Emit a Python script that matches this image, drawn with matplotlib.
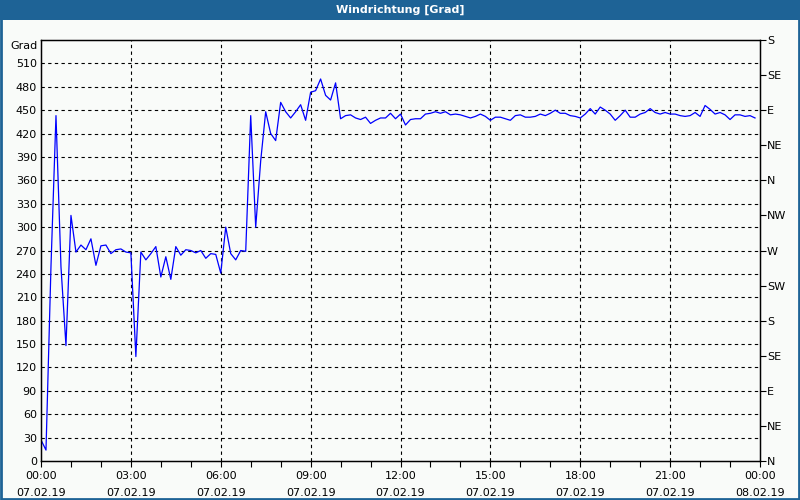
import numpy as np
import matplotlib
matplotlib.use("Agg")
import matplotlib.pyplot as plt
from matplotlib.patches import Rectangle

# Windrichtung, 10-Minuten-Werte vom 07.02.19 00:00 bis 23:50
grad = [27, 14, 250, 443, 249, 148, 315, 268, 277, 271,
        285, 251, 276, 277, 266, 271, 272, 268, 267, 134,
        268, 258, 266, 275, 236, 262, 233, 275, 264, 271,
        270, 267, 270, 260, 266, 265, 241, 300, 266, 258,
        270, 269, 443, 300, 385, 448, 420, 411, 460, 448,
        440, 448, 457, 437, 473, 475, 490, 469, 463, 485,
        439, 443, 444, 440, 438, 441, 433, 437, 440, 440,
        446, 439, 445, 431, 438, 439, 439, 445, 446, 448,
        446, 448, 444, 445, 444, 442, 440, 442, 445, 442,
        437, 441, 441, 439, 437, 443, 444, 441, 441, 442,
        445, 443, 446, 450, 446, 446, 443, 442, 440, 445,
        452, 445, 454, 450, 445, 437, 443, 450, 441, 441,
        445, 447, 452, 447, 445, 447, 445, 445, 443, 442,
        443, 447, 442, 456, 451, 445, 447, 444, 438, 444,
        444, 442, 443, 440]
stunden = np.arange(len(grad)) * 10 / 60.0

zeit_ticks = [0, 3, 6, 9, 12, 15, 18, 21, 24]
zeit_labels = ['00:00', '03:00', '06:00', '09:00', '12:00',
               '15:00', '18:00', '21:00', '00:00']
datum_labels = ['07.02.19'] * 8 + ['08.02.19']
richtungen = ['N', 'NE', 'E', 'SE', 'S', 'SW', 'W', 'NW',
              'N', 'NE', 'E', 'SE', 'S']

hintergrund = '#f9fbf9'
balken = '#1e6396'

fig = plt.figure(figsize=(8, 5), dpi=100, facecolor=hintergrund)

# Titelleiste + Rahmen
fig.patches.append(Rectangle((0, 1 - 20 / 500), 1, 20 / 500, transform=fig.transFigure,
                             facecolor=balken, edgecolor='none', zorder=0))
fig.patches.append(Rectangle((0.001, 0.002), 0.998, 0.996, transform=fig.transFigure,
                             facecolor='none', edgecolor=balken, linewidth=2, zorder=1))
fig.text(0.5, 1 - 10 / 500, 'Windrichtung [Grad]', color='white', fontsize=8,
         fontweight='bold', ha='center', va='center')

ax = fig.add_axes([41 / 800, 1 - 461 / 500, 719 / 800, 421 / 500])
ax.set_facecolor(hintergrund)
ax.plot(stunden, grad, color='#0000ff', linewidth=0.9)

ax.set_xlim(0, 24)
ax.set_ylim(0, 540)

ax.set_yticks(np.arange(0, 540, 30))
ax.tick_params(axis='y', length=0, pad=3, labelsize=8)

ax.set_xticks(zeit_ticks)
ax.set_xticklabels([z + '\n' + d for z, d in zip(zeit_labels, datum_labels)],
                   fontsize=8, linespacing=1.9)
ax.set_xticks(np.arange(0, 25, 1), minor=True)
ax.tick_params(axis='x', which='both', direction='out', length=4, width=0.8, pad=3)

for v in np.arange(30, 540, 30):
    ax.axhline(v, color='black', linestyle=(0, (3, 3)), linewidth=0.8, zorder=0)
for t in zeit_ticks[1:-1]:
    ax.axvline(t, color='black', linestyle=(0, (3, 3)), linewidth=0.8, zorder=0)

for s in ax.spines.values():
    s.set_color('black')
    s.set_linewidth(1)

ax2 = ax.twinx()
ax2.set_ylim(0, 540)
ax2.set_yticks(np.arange(0, 541, 45))
ax2.set_yticklabels(richtungen, fontsize=8)
ax2.tick_params(axis='y', direction='out', length=4, width=0.8, pad=1)

fig.text(38 / 800, 1 - 46 / 500, 'Grad', fontsize=8, ha='right', va='center')

fig.savefig('out.png', dpi=100, facecolor=hintergrund)
